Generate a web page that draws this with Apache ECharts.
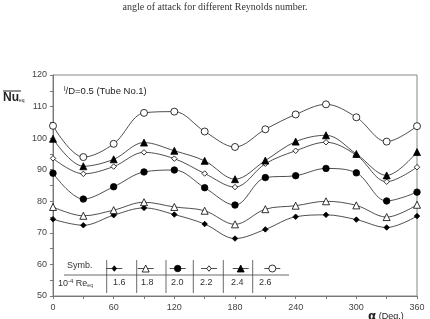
<!DOCTYPE html>
<html><head><meta charset="utf-8">
<script src="https://cdn.jsdelivr.net/npm/echarts@6/dist/echarts.min.js"></script>
<style>html,body{margin:0;padding:0;background:#fff}#c{width:430px;height:319px}</style>
</head><body><div id="c"></div>
<script>
var angles = [0,30,60,90,120,150,180,210,240,270,300,330,360];
var re16 = [74.3,72.4,75.6,77.9,75.8,72.8,68.2,71.1,75.1,75.7,74.2,71.7,75.3];
var re18 = [78.2,75.4,77.2,79.7,78.2,77.0,72.7,77.5,78.6,80.0,78.7,75.0,78.9];
var re20 = [88.9,80.7,84.6,89.3,89.9,84.3,78.8,87.5,88.1,90.4,89.0,80.1,82.9];
var re22 = [93.6,88.7,91.0,95.5,93.5,88.8,84.5,91.9,96.0,98.7,94.6,86.2,90.8];
var re24 = [99.8,91.1,93.3,98.6,96.0,92.8,87.0,92.9,98.9,100.9,95.0,88.2,95.6];
var re26 = [103.9,94.0,98.2,108.0,108.4,102.1,97.2,102.8,107.5,110.7,106.6,98.9,103.8];
var reLabels = ['1.6','1.8','2.0','2.2','2.4','2.6'];
var xTicks = [0,60,120,180,240,300,360];
var yTicks = [50,60,70,80,90,100,110,120];

var styles = [
  {symbol:'diamond', size:5.5, fill:'#000'},
  {symbol:'triangle', size:7, fill:'#fff'},
  {symbol:'circle', size:6.5, fill:'#000'},
  {symbol:'diamond', size:5.5, fill:'#fff'},
  {symbol:'triangle', size:7, fill:'#000'},
  {symbol:'circle', size:7, fill:'#fff'}
];
var allData = [re16,re18,re20,re22,re24,re26];

var series = allData.map(function(vals,i){
  return {
    name: reLabels[i], type:'line', smooth:0.35,
    data: vals.map(function(v,j){return [angles[j], v];}),
    symbol: styles[i].symbol, symbolSize: styles[i].size,
    showAllSymbol:true,
    lineStyle:{color:'#222', width:0.8},
    itemStyle:{color:styles[i].fill, borderColor:'#000', borderWidth:0.8, opacity:1},
    z: 3, animation:false
  };
});

var chart = echarts.init(document.getElementById('c'));
var font = 'Liberation Sans, Arial, sans-serif';

var g = [];
var tblTop = 260, tblBot = 293, rowLine = 275;
g.push({type:'line', shape:{x1:64,y1:rowLine,x2:289,y2:rowLine}, style:{stroke:'#444', lineWidth:0.8}, z:10});
var vlines = [106.7,136.7,166,193.3,223.3,252.7];
vlines.forEach(function(x){
  g.push({type:'line', shape:{x1:x,y1:tblTop,x2:x,y2:tblBot}, style:{stroke:'#444', lineWidth:0.8}, z:10});
});
g.push({type:'text', left:67, top:261, style:{text:'Symb.', font:'9px '+font, fill:'#333'}, z:10});
g.push({type:'text', left:58, top:278, style:{text:'{a|10}{s|-4}{a| Re}{b|eq}', font:'9px '+font, fill:'#333',
  rich:{a:{fontSize:9,fontFamily:font,fill:'#333'}, s:{fontSize:6,fontFamily:font,fill:'#333',verticalAlign:'top',padding:[0,0,5,0]}, b:{fontSize:5,fontFamily:font,fill:'#333',padding:[4,0,0,0]}}}, z:10});
var symX = [114.3,145.7,177.7,209,240.7,272.3];
var valX = [119,147,177,206,237,265];
reLabels.forEach(function(lab,i){
  g.push({type:'line', shape:{x1:symX[i]-8,y1:268.5,x2:symX[i]+8,y2:268.5}, style:{stroke:'#222', lineWidth:0.8}, z:10});
  var st = styles[i];
  var s = st.size;
  var shapeEl;
  if (st.symbol==='circle') {
    shapeEl = {type:'circle', shape:{cx:symX[i], cy:268.5, r:s/2}, style:{fill:st.fill, stroke:'#000', lineWidth:0.8}, z:11};
  } else if (st.symbol==='triangle') {
    shapeEl = {type:'polygon', shape:{points:[[symX[i],268.5-s/2],[symX[i]+s/2,268.5+s/2],[symX[i]-s/2,268.5+s/2]]}, style:{fill:st.fill, stroke:'#000', lineWidth:0.8}, z:11};
  } else {
    shapeEl = {type:'polygon', shape:{points:[[symX[i],268.5-s/2],[symX[i]+s/2.5,268.5],[symX[i],268.5+s/2],[symX[i]-s/2.5,268.5]]}, style:{fill:st.fill, stroke:'#000', lineWidth:0.8}, z:11};
  }
  g.push(shapeEl);
  g.push({type:'text', left:valX[i]-6, top:278, style:{text:lab, font:'9px '+font, fill:'#333'}, z:10});
});
g.push({type:'text', left:'center', top:2, style:{text:'angle of attack for different Reynolds number.', font:'10px Liberation Serif, Times New Roman, serif', fill:'#333'}});
g.push({type:'text', left:64, top:86, style:{text:'{l|l}/D=0.5 (Tube No.1)', font:'9.5px '+font, fill:'#222',
  rich:{l:{fontSize:7, fontFamily:font, fill:'#222', verticalAlign:'top', padding:[0,0,3,0]}}}});
g.push({type:'text', left:3, top:92, style:{text:'{n|Nu}{e|eq}', fill:'#222',
  rich:{n:{fontSize:12, fontWeight:'bold', fontFamily:font, fill:'#222'}, e:{fontSize:5, fontFamily:font, fill:'#222', padding:[5,0,0,0]}}}});
g.push({type:'line', shape:{x1:3,y1:91,x2:21,y2:91}, style:{stroke:'#222', lineWidth:1}});
g.push({type:'text', left:368, top:311, style:{text:'{a|α} (Deg.)', fill:'#222', font:'9px '+font,
  rich:{a:{fontSize:12, fontWeight:'bold', fontFamily:'DejaVu Sans, sans-serif', fill:'#222'}}}});

chart.setOption({
  animation:false,
  backgroundColor:'#fff',
  grid:{left:53, right:13, top:75, bottom:23, show:true, borderColor:'#888', borderWidth:1},
  xAxis:{type:'value', min:0, max:360, interval:60,
    axisLine:{show:true, onZero:false, lineStyle:{color:'#777', width:1}},
    axisTick:{show:true, length:3, lineStyle:{color:'#777'}},
    minorTick:{show:true, splitNumber:2, length:3, lineStyle:{color:'#777'}},
    splitLine:{show:false},
    axisLabel:{color:'#444', fontSize:9, fontFamily:font, margin:7,
      formatter:function(v){return xTicks.indexOf(v)>=0 ? String(v) : '';}}
  },
  yAxis:{type:'value', min:50, max:120, interval:10,
    axisLine:{show:true, lineStyle:{color:'#777', width:1}},
    axisTick:{show:true, length:3, lineStyle:{color:'#777'}},
    minorTick:{show:true, splitNumber:2, length:3, lineStyle:{color:'#777'}},
    splitLine:{show:false},
    axisLabel:{color:'#444', fontSize:9, fontFamily:font, margin:6,
      formatter:function(v){return yTicks.indexOf(v)>=0 ? String(v) : '';}}
  },
  series: series,
  graphic: g
});
</script></body></html>
